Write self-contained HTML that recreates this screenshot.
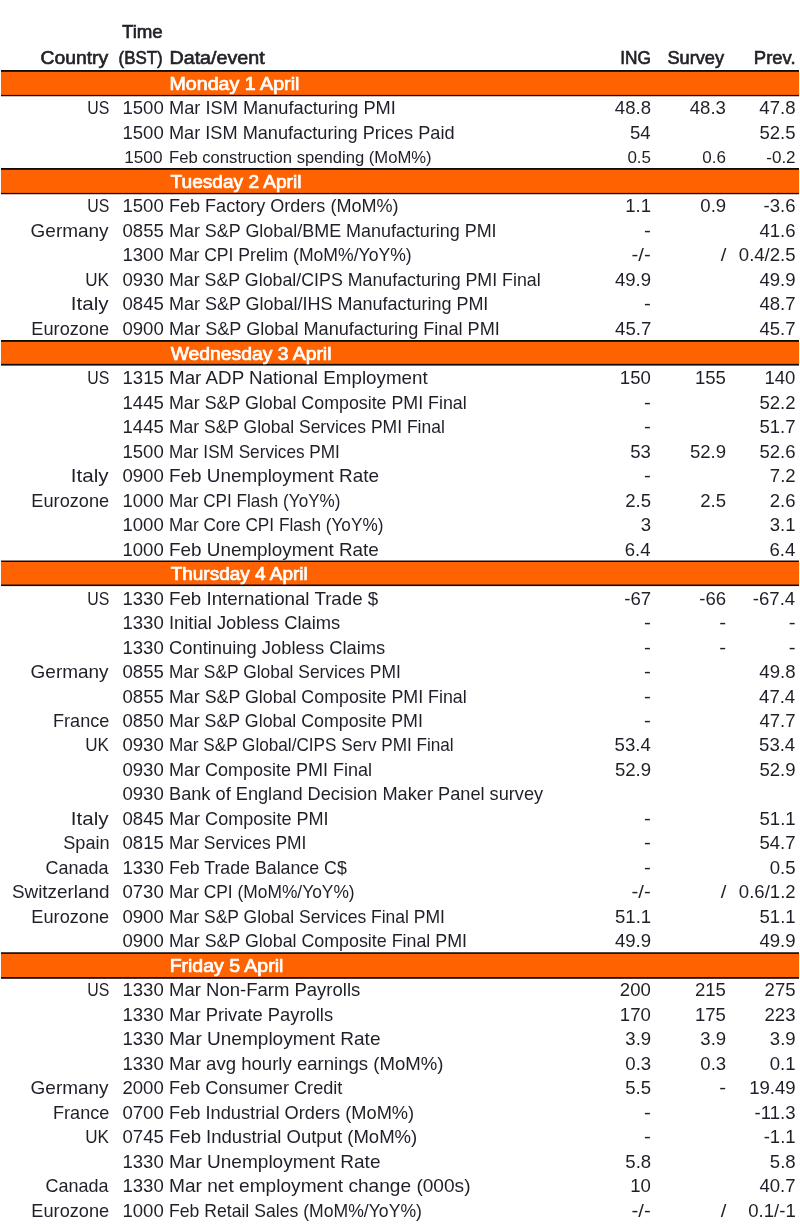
<!DOCTYPE html>
<html lang="en"><head><meta charset="utf-8"><title>Developed Markets Economic Calendar</title>
<style>
html,body{margin:0;padding:0;background:#fff;}
body{width:800px;height:1224px;position:relative;overflow:hidden;font-family:"Liberation Sans",Arial,sans-serif;color:#1f1f29;}
.t{position:absolute;white-space:nowrap;line-height:24px;height:24px;}
.b{color:#222228;-webkit-text-stroke:0.6px #222228;}
.band{position:absolute;left:1px;width:798px;}
.w{color:#fff;-webkit-text-stroke:0.7px #fff;}
.l{transform-origin:0 50%;}
.r{transform-origin:100% 50%;}
</style></head><body>

<span id="h_time" class="t b r" style="top:20px;font-size:17.8px;right:637.80px;transform:translateX(0.92px) scaleX(1.0519);">Time</span>
<span id="h_country" class="t b r" style="top:46px;font-size:17.8px;right:691.60px;transform:translateX(-0.09px) scaleX(1.0879);">Country</span>
<span id="h_bst" class="t b r" style="top:46px;font-size:17.8px;right:637.80px;transform:translateX(0.30px) scaleX(0.9511);">(BST)</span>
<span id="h_data" class="t b l" style="top:46px;font-size:17.8px;left:168.80px;transform:translateX(0.46px) scaleX(1.1079);">Data/event</span>
<span id="h_ing" class="t b r" style="top:46px;font-size:17.8px;right:149.60px;transform:translateX(0.36px) scaleX(0.9721);">ING</span>
<span id="h_survey" class="t b r" style="top:46px;font-size:17.8px;right:74.60px;transform:translateX(-1.25px) scaleX(1.0233);">Survey</span>
<span id="h_prev" class="t b r" style="top:46px;font-size:17.8px;right:4.80px;transform:translateX(0.44px) scaleX(1.0391);">Prev.</span>
<div class="band" style="top:69px;height:29px;background:linear-gradient(to bottom,rgba(255,255,255,0) 0.50px,#0e0c0a 1.50px,#0e0c0a 2.35px,#ff6200 3.35px,#ff6200 25.40px,#0e0c0a 26.40px,#0e0c0a 26.75px,rgba(255,255,255,0) 27.75px)"></div>
<span id="b0" class="t w l" style="top:72px;font-size:17.8px;left:168.80px;transform:translateX(0.45px) scaleX(1.1048);">Monday 1 April</span>
<span id="c1" class="t r" style="top:96px;font-size:17.8px;right:691.60px;transform:translateX(0.53px) scaleX(0.8923);">US</span>
<span id="t1" class="t r" style="top:96px;font-size:17.8px;right:636.80px;transform:translateX(0.17px) scaleX(1.0450);">1500</span>
<span id="d1" class="t l" style="top:96px;font-size:17.8px;left:168.80px;transform:scaleX(1.0246);">Mar ISM Manufacturing PMI</span>
<span id="i1" class="t r" style="top:96px;font-size:17.8px;right:149.60px;transform:translateX(0.39px) scaleX(1.0450);">48.8</span>
<span id="s1" class="t r" style="top:96px;font-size:17.8px;right:74.60px;transform:translateX(0.34px) scaleX(1.0450);">48.3</span>
<span id="p1" class="t r" style="top:96px;font-size:17.8px;right:4.80px;transform:translateX(-0.08px) scaleX(1.0450);">47.8</span>
<span id="t2" class="t r" style="top:121px;font-size:17.8px;right:636.80px;transform:translateX(0.17px) scaleX(1.0450);">1500</span>
<span id="d2" class="t l" style="top:121px;font-size:17.8px;left:168.80px;transform:scaleX(1.0211);">Mar ISM Manufacturing Prices Paid</span>
<span id="i2" class="t r" style="top:121px;font-size:17.8px;right:149.60px;transform:translateX(-0.18px) scaleX(1.0450);">54</span>
<span id="p2" class="t r" style="top:121px;font-size:17.8px;right:4.80px;transform:translateX(-0.04px) scaleX(1.0450);">52.5</span>
<span id="t3" class="t r" style="top:145px;font-size:16.3px;right:636.80px;transform:translateX(-0.77px) scaleX(1.0572);">1500</span>
<span id="d3" class="t l" style="top:145px;font-size:16.3px;left:168.80px;transform:scaleX(1.0220);">Feb construction spending (MoM%)</span>
<span id="i3" class="t r" style="top:145px;font-size:16.3px;right:149.60px;transform:translateX(0.40px) scaleX(1.0450);">0.5</span>
<span id="s3" class="t r" style="top:145px;font-size:16.3px;right:74.60px;transform:translateX(0.27px) scaleX(1.0450);">0.6</span>
<span id="p3" class="t r" style="top:145px;font-size:16.3px;right:4.80px;transform:translateX(0.53px) scaleX(1.0450);">-0.2</span>
<div class="band" style="top:167px;height:29px;background:linear-gradient(to bottom,rgba(255,255,255,0) 0.50px,#0e0c0a 1.50px,#0e0c0a 2.35px,#ff6200 3.35px,#ff6200 25.40px,#0e0c0a 26.40px,#0e0c0a 26.75px,rgba(255,255,255,0) 27.75px)"></div>
<span id="b4" class="t w l" style="top:170px;font-size:17.8px;left:168.80px;transform:translateX(1.58px) scaleX(1.0734);">Tuesday 2 April</span>
<span id="c5" class="t r" style="top:194px;font-size:17.8px;right:691.60px;transform:translateX(0.53px) scaleX(0.8923);">US</span>
<span id="t5" class="t r" style="top:194px;font-size:17.8px;right:636.80px;transform:translateX(0.17px) scaleX(1.0450);">1500</span>
<span id="d5" class="t l" style="top:194px;font-size:17.8px;left:168.80px;transform:scaleX(1.0145);">Feb Factory Orders (MoM%)</span>
<span id="i5" class="t r" style="top:194px;font-size:17.8px;right:149.60px;transform:translateX(0.34px) scaleX(1.0450);">1.1</span>
<span id="s5" class="t r" style="top:194px;font-size:17.8px;right:74.60px;transform:translateX(0.46px) scaleX(1.0450);">0.9</span>
<span id="p5" class="t r" style="top:194px;font-size:17.8px;right:4.80px;transform:translateX(-0.14px) scaleX(1.0450);">-3.6</span>
<span id="c6" class="t r" style="top:219px;font-size:17.8px;right:691.60px;transform:translateX(0.46px) scaleX(1.0665);">Germany</span>
<span id="t6" class="t r" style="top:219px;font-size:17.8px;right:636.80px;transform:translateX(0.30px) scaleX(1.0450);">0855</span>
<span id="d6" class="t l" style="top:219px;font-size:17.8px;left:168.80px;transform:scaleX(1.0086);">Mar S&amp;P Global/BME Manufacturing PMI</span>
<span id="i6" class="t r" style="top:219px;font-size:17.8px;right:149.60px;transform:translateX(0.81px) scaleX(1.1538);">-</span>
<span id="p6" class="t r" style="top:219px;font-size:17.8px;right:4.80px;transform:translateX(-0.06px) scaleX(1.0450);">41.6</span>
<span id="t7" class="t r" style="top:243px;font-size:17.8px;right:636.80px;transform:translateX(0.17px) scaleX(1.0450);">1300</span>
<span id="d7" class="t l" style="top:243px;font-size:17.8px;left:168.80px;transform:scaleX(0.9889);">Mar CPI Prelim (MoM%/YoY%)</span>
<span id="i7" class="t r" style="top:243px;font-size:17.8px;right:149.60px;transform:translateX(-0.05px) scaleX(1.1413);">-/-</span>
<span id="s7" class="t r" style="top:243px;font-size:17.8px;right:74.60px;transform:translateX(1.35px) scaleX(1.1432);">/</span>
<span id="p7" class="t r" style="top:243px;font-size:17.8px;right:4.80px;transform:translateX(0.24px) scaleX(1.0450);">0.4/2.5</span>
<span id="c8" class="t r" style="top:268px;font-size:17.8px;right:691.60px;transform:translateX(0.27px) scaleX(0.9608);">UK</span>
<span id="t8" class="t r" style="top:268px;font-size:17.8px;right:636.80px;transform:translateX(0.17px) scaleX(1.0450);">0930</span>
<span id="d8" class="t l" style="top:268px;font-size:17.8px;left:168.80px;transform:scaleX(1.0011);">Mar S&amp;P Global/CIPS Manufacturing PMI Final</span>
<span id="i8" class="t r" style="top:268px;font-size:17.8px;right:149.60px;transform:translateX(0.48px) scaleX(1.0450);">49.9</span>
<span id="p8" class="t r" style="top:268px;font-size:17.8px;right:4.80px;transform:translateX(-0.04px) scaleX(1.0450);">49.9</span>
<span id="c9" class="t r" style="top:292px;font-size:17.8px;right:691.60px;transform:translateX(-0.05px) scaleX(1.1580);">Italy</span>
<span id="t9" class="t r" style="top:292px;font-size:17.8px;right:636.80px;transform:translateX(0.30px) scaleX(1.0450);">0845</span>
<span id="d9" class="t l" style="top:292px;font-size:17.8px;left:168.80px;transform:scaleX(1.0109);">Mar S&amp;P Global/IHS Manufacturing PMI</span>
<span id="i9" class="t r" style="top:292px;font-size:17.8px;right:149.60px;transform:translateX(0.81px) scaleX(1.1538);">-</span>
<span id="p9" class="t r" style="top:292px;font-size:17.8px;right:4.80px;transform:translateX(-0.05px) scaleX(1.0450);">48.7</span>
<span id="c10" class="t r" style="top:317px;font-size:17.8px;right:691.60px;transform:translateX(1.01px) scaleX(1.0217);">Eurozone</span>
<span id="t10" class="t r" style="top:317px;font-size:17.8px;right:636.80px;transform:translateX(0.17px) scaleX(1.0450);">0900</span>
<span id="d10" class="t l" style="top:317px;font-size:17.8px;left:168.80px;transform:scaleX(1.0183);">Mar S&amp;P Global Manufacturing Final PMI</span>
<span id="i10" class="t r" style="top:317px;font-size:17.8px;right:149.60px;transform:translateX(0.61px) scaleX(1.0450);">45.7</span>
<span id="p10" class="t r" style="top:317px;font-size:17.8px;right:4.80px;transform:translateX(-0.05px) scaleX(1.0450);">45.7</span>
<div class="band" style="top:339px;height:28px;background:linear-gradient(to bottom,rgba(255,255,255,0) 0.50px,#0e0c0a 1.50px,#0e0c0a 2.35px,#ff6200 3.35px,#ff6200 24.35px,#0e0c0a 25.35px,#0e0c0a 26.10px,rgba(255,255,255,0) 27.10px)"></div>
<span id="b11" class="t w l" style="top:342px;font-size:17.8px;left:168.80px;transform:translateX(1.68px) scaleX(1.0866);">Wednesday 3 April</span>
<span id="c12" class="t r" style="top:366px;font-size:17.8px;right:691.60px;transform:translateX(0.53px) scaleX(0.8923);">US</span>
<span id="t12" class="t r" style="top:366px;font-size:17.8px;right:636.80px;transform:translateX(0.30px) scaleX(1.0450);">1315</span>
<span id="d12" class="t l" style="top:366px;font-size:17.8px;left:168.80px;transform:scaleX(1.0569);">Mar ADP National Employment</span>
<span id="i12" class="t r" style="top:366px;font-size:17.8px;right:149.60px;transform:translateX(0.19px) scaleX(1.0450);">150</span>
<span id="s12" class="t r" style="top:366px;font-size:17.8px;right:74.60px;transform:translateX(0.27px) scaleX(1.0450);">155</span>
<span id="p12" class="t r" style="top:366px;font-size:17.8px;right:4.80px;transform:translateX(-0.25px) scaleX(1.0450);">140</span>
<span id="t13" class="t r" style="top:391px;font-size:17.8px;right:636.80px;transform:translateX(0.30px) scaleX(1.0450);">1445</span>
<span id="d13" class="t l" style="top:391px;font-size:17.8px;left:168.80px;transform:scaleX(1.0020);">Mar S&amp;P Global Composite PMI Final</span>
<span id="i13" class="t r" style="top:391px;font-size:17.8px;right:149.60px;transform:translateX(0.81px) scaleX(1.1538);">-</span>
<span id="p13" class="t r" style="top:391px;font-size:17.8px;right:4.80px;transform:translateX(-0.05px) scaleX(1.0450);">52.2</span>
<span id="t14" class="t r" style="top:415px;font-size:17.8px;right:636.80px;transform:translateX(0.30px) scaleX(1.0450);">1445</span>
<span id="d14" class="t l" style="top:415px;font-size:17.8px;left:168.80px;transform:scaleX(0.9839);">Mar S&amp;P Global Services PMI Final</span>
<span id="i14" class="t r" style="top:415px;font-size:17.8px;right:149.60px;transform:translateX(0.81px) scaleX(1.1538);">-</span>
<span id="p14" class="t r" style="top:415px;font-size:17.8px;right:4.80px;transform:translateX(-0.05px) scaleX(1.0450);">51.7</span>
<span id="t15" class="t r" style="top:440px;font-size:17.8px;right:636.80px;transform:translateX(0.17px) scaleX(1.0450);">1500</span>
<span id="d15" class="t l" style="top:440px;font-size:17.8px;left:168.80px;transform:scaleX(0.9660);">Mar ISM Services PMI</span>
<span id="i15" class="t r" style="top:440px;font-size:17.8px;right:149.60px;transform:translateX(0.18px) scaleX(1.0450);">53</span>
<span id="s15" class="t r" style="top:440px;font-size:17.8px;right:74.60px;transform:translateX(0.48px) scaleX(1.0450);">52.9</span>
<span id="p15" class="t r" style="top:440px;font-size:17.8px;right:4.80px;transform:translateX(-0.06px) scaleX(1.0450);">52.6</span>
<span id="c16" class="t r" style="top:464px;font-size:17.8px;right:691.60px;transform:translateX(-0.05px) scaleX(1.1580);">Italy</span>
<span id="t16" class="t r" style="top:464px;font-size:17.8px;right:636.80px;transform:translateX(0.17px) scaleX(1.0450);">0900</span>
<span id="d16" class="t l" style="top:464px;font-size:17.8px;left:168.80px;transform:scaleX(1.0619);">Feb Unemployment Rate</span>
<span id="i16" class="t r" style="top:464px;font-size:17.8px;right:149.60px;transform:translateX(0.81px) scaleX(1.1538);">-</span>
<span id="p16" class="t r" style="top:464px;font-size:17.8px;right:4.80px;transform:translateX(0.95px) scaleX(1.0450);">7.2</span>
<span id="c17" class="t r" style="top:489px;font-size:17.8px;right:691.60px;transform:translateX(1.01px) scaleX(1.0217);">Eurozone</span>
<span id="t17" class="t r" style="top:489px;font-size:17.8px;right:636.80px;transform:translateX(0.17px) scaleX(1.0450);">1000</span>
<span id="d17" class="t l" style="top:489px;font-size:17.8px;left:168.80px;transform:scaleX(0.9624);">Mar CPI Flash (YoY%)</span>
<span id="i17" class="t r" style="top:489px;font-size:17.8px;right:149.60px;transform:translateX(0.40px) scaleX(1.0450);">2.5</span>
<span id="s17" class="t r" style="top:489px;font-size:17.8px;right:74.60px;transform:translateX(0.40px) scaleX(1.0450);">2.5</span>
<span id="p17" class="t r" style="top:489px;font-size:17.8px;right:4.80px;transform:translateX(0.80px) scaleX(1.0450);">2.6</span>
<span id="t18" class="t r" style="top:513px;font-size:17.8px;right:636.80px;transform:translateX(0.17px) scaleX(1.0450);">1000</span>
<span id="d18" class="t l" style="top:513px;font-size:17.8px;left:168.80px;transform:scaleX(0.9672);">Mar Core CPI Flash (YoY%)</span>
<span id="i18" class="t r" style="top:513px;font-size:17.8px;right:149.60px;transform:translateX(0.18px) scaleX(1.0450);">3</span>
<span id="p18" class="t r" style="top:513px;font-size:17.8px;right:4.80px;transform:translateX(0.83px) scaleX(1.0450);">3.1</span>
<span id="t19" class="t r" style="top:538px;font-size:17.8px;right:636.80px;transform:translateX(0.18px) scaleX(1.0450);">1000</span>
<span id="d19" class="t l" style="top:538px;font-size:17.8px;left:168.80px;transform:scaleX(1.0616);">Feb Unemployment Rate</span>
<span id="i19" class="t r" style="top:538px;font-size:17.8px;right:149.60px;transform:translateX(-0.13px) scaleX(1.0450);">6.4</span>
<span id="p19" class="t r" style="top:538px;font-size:17.8px;right:4.80px;transform:translateX(0.64px) scaleX(1.0450);">6.4</span>
<div class="band" style="top:559px;height:29px;background:linear-gradient(to bottom,rgba(255,255,255,0) 1.00px,#0e0c0a 2.00px,#0e0c0a 2.50px,#ff6200 3.50px,#ff6200 25.00px,#0e0c0a 26.00px,#0e0c0a 26.60px,rgba(255,255,255,0) 27.60px)"></div>
<span id="b20" class="t w l" style="top:562px;font-size:17.8px;left:168.80px;transform:translateX(1.63px) scaleX(1.0677);">Thursday 4 April</span>
<span id="c21" class="t r" style="top:587px;font-size:17.8px;right:691.60px;transform:translateX(0.53px) scaleX(0.8923);">US</span>
<span id="t21" class="t r" style="top:587px;font-size:17.8px;right:636.80px;transform:translateX(0.17px) scaleX(1.0450);">1330</span>
<span id="d21" class="t l" style="top:587px;font-size:17.8px;left:168.80px;transform:scaleX(1.0531);">Feb International Trade $</span>
<span id="i21" class="t r" style="top:587px;font-size:17.8px;right:149.60px;transform:translateX(0.50px) scaleX(1.0450);">-67</span>
<span id="s21" class="t r" style="top:587px;font-size:17.8px;right:74.60px;transform:translateX(0.42px) scaleX(1.0450);">-66</span>
<span id="p21" class="t r" style="top:587px;font-size:17.8px;right:4.80px;transform:translateX(-0.40px) scaleX(1.0450);">-67.4</span>
<span id="t22" class="t r" style="top:611px;font-size:17.8px;right:636.80px;transform:translateX(0.17px) scaleX(1.0450);">1330</span>
<span id="d22" class="t l" style="top:611px;font-size:17.8px;left:168.80px;transform:scaleX(1.0314);">Initial Jobless Claims</span>
<span id="i22" class="t r" style="top:611px;font-size:17.8px;right:149.60px;transform:translateX(0.81px) scaleX(1.1538);">-</span>
<span id="s22" class="t r" style="top:611px;font-size:17.8px;right:74.60px;transform:translateX(1.25px) scaleX(1.1553);">-</span>
<span id="p22" class="t r" style="top:611px;font-size:17.8px;right:4.80px;transform:translateX(0.75px) scaleX(1.1559);">-</span>
<span id="t23" class="t r" style="top:636px;font-size:17.8px;right:636.80px;transform:translateX(0.17px) scaleX(1.0450);">1330</span>
<span id="d23" class="t l" style="top:636px;font-size:17.8px;left:168.80px;transform:scaleX(1.0323);">Continuing Jobless Claims</span>
<span id="i23" class="t r" style="top:636px;font-size:17.8px;right:149.60px;transform:translateX(0.81px) scaleX(1.1538);">-</span>
<span id="s23" class="t r" style="top:636px;font-size:17.8px;right:74.60px;transform:translateX(1.25px) scaleX(1.1553);">-</span>
<span id="p23" class="t r" style="top:636px;font-size:17.8px;right:4.80px;transform:translateX(0.75px) scaleX(1.1559);">-</span>
<span id="c24" class="t r" style="top:660px;font-size:17.8px;right:691.60px;transform:translateX(0.46px) scaleX(1.0665);">Germany</span>
<span id="t24" class="t r" style="top:660px;font-size:17.8px;right:636.80px;transform:translateX(0.30px) scaleX(1.0450);">0855</span>
<span id="d24" class="t l" style="top:660px;font-size:17.8px;left:168.80px;transform:scaleX(0.9786);">Mar S&amp;P Global Services PMI</span>
<span id="i24" class="t r" style="top:660px;font-size:17.8px;right:149.60px;transform:translateX(0.81px) scaleX(1.1538);">-</span>
<span id="p24" class="t r" style="top:660px;font-size:17.8px;right:4.80px;transform:translateX(-0.08px) scaleX(1.0450);">49.8</span>
<span id="t25" class="t r" style="top:685px;font-size:17.8px;right:636.80px;transform:translateX(0.30px) scaleX(1.0450);">0855</span>
<span id="d25" class="t l" style="top:685px;font-size:17.8px;left:168.80px;transform:scaleX(1.0020);">Mar S&amp;P Global Composite PMI Final</span>
<span id="i25" class="t r" style="top:685px;font-size:17.8px;right:149.60px;transform:translateX(0.81px) scaleX(1.1538);">-</span>
<span id="p25" class="t r" style="top:685px;font-size:17.8px;right:4.80px;transform:translateX(-0.40px) scaleX(1.0450);">47.4</span>
<span id="c26" class="t r" style="top:709px;font-size:17.8px;right:691.60px;transform:translateX(0.95px) scaleX(1.0164);">France</span>
<span id="t26" class="t r" style="top:709px;font-size:17.8px;right:636.80px;transform:translateX(0.17px) scaleX(1.0450);">0850</span>
<span id="d26" class="t l" style="top:709px;font-size:17.8px;left:168.80px;transform:scaleX(1.0010);">Mar S&amp;P Global Composite PMI</span>
<span id="i26" class="t r" style="top:709px;font-size:17.8px;right:149.60px;transform:translateX(0.81px) scaleX(1.1538);">-</span>
<span id="p26" class="t r" style="top:709px;font-size:17.8px;right:4.80px;transform:translateX(-0.05px) scaleX(1.0450);">47.7</span>
<span id="c27" class="t r" style="top:733px;font-size:17.8px;right:691.60px;transform:translateX(0.27px) scaleX(0.9608);">UK</span>
<span id="t27" class="t r" style="top:733px;font-size:17.8px;right:636.80px;transform:translateX(0.17px) scaleX(1.0450);">0930</span>
<span id="d27" class="t l" style="top:733px;font-size:17.8px;left:168.80px;transform:scaleX(0.9645);">Mar S&amp;P Global/CIPS Serv PMI Final</span>
<span id="i27" class="t r" style="top:733px;font-size:17.8px;right:149.60px;transform:translateX(0.11px) scaleX(1.0450);">53.4</span>
<span id="p27" class="t r" style="top:733px;font-size:17.8px;right:4.80px;transform:translateX(-0.40px) scaleX(1.0450);">53.4</span>
<span id="t28" class="t r" style="top:758px;font-size:17.8px;right:636.80px;transform:translateX(0.17px) scaleX(1.0450);">0930</span>
<span id="d28" class="t l" style="top:758px;font-size:17.8px;left:168.80px;transform:scaleX(1.0117);">Mar Composite PMI Final</span>
<span id="i28" class="t r" style="top:758px;font-size:17.8px;right:149.60px;transform:translateX(0.48px) scaleX(1.0450);">52.9</span>
<span id="p28" class="t r" style="top:758px;font-size:17.8px;right:4.80px;transform:translateX(-0.04px) scaleX(1.0450);">52.9</span>
<span id="t29" class="t r" style="top:782px;font-size:17.8px;right:636.80px;transform:translateX(0.17px) scaleX(1.0450);">0930</span>
<span id="d29" class="t l" style="top:782px;font-size:17.8px;left:168.80px;transform:scaleX(1.0232);">Bank of England Decision Maker Panel survey</span>
<span id="c30" class="t r" style="top:807px;font-size:17.8px;right:691.60px;transform:translateX(-0.05px) scaleX(1.1580);">Italy</span>
<span id="t30" class="t r" style="top:807px;font-size:17.8px;right:636.80px;transform:translateX(0.30px) scaleX(1.0450);">0845</span>
<span id="d30" class="t l" style="top:807px;font-size:17.8px;left:168.80px;transform:scaleX(1.0157);">Mar Composite PMI</span>
<span id="i30" class="t r" style="top:807px;font-size:17.8px;right:149.60px;transform:translateX(0.81px) scaleX(1.1538);">-</span>
<span id="p30" class="t r" style="top:807px;font-size:17.8px;right:4.80px;transform:translateX(0.06px) scaleX(1.0450);">51.1</span>
<span id="c31" class="t r" style="top:831px;font-size:17.8px;right:691.60px;transform:translateX(1.15px) scaleX(1.0205);">Spain</span>
<span id="t31" class="t r" style="top:831px;font-size:17.8px;right:636.80px;transform:translateX(0.30px) scaleX(1.0450);">0815</span>
<span id="d31" class="t l" style="top:831px;font-size:17.8px;left:168.80px;transform:scaleX(0.9793);">Mar Services PMI</span>
<span id="i31" class="t r" style="top:831px;font-size:17.8px;right:149.60px;transform:translateX(0.81px) scaleX(1.1538);">-</span>
<span id="p31" class="t r" style="top:831px;font-size:17.8px;right:4.80px;transform:translateX(-0.05px) scaleX(1.0450);">54.7</span>
<span id="c32" class="t r" style="top:856px;font-size:17.8px;right:691.60px;transform:translateX(0.22px) scaleX(1.0109);">Canada</span>
<span id="t32" class="t r" style="top:856px;font-size:17.8px;right:636.80px;transform:translateX(0.17px) scaleX(1.0450);">1330</span>
<span id="d32" class="t l" style="top:856px;font-size:17.8px;left:168.80px;transform:scaleX(0.9993);">Feb Trade Balance C$</span>
<span id="i32" class="t r" style="top:856px;font-size:17.8px;right:149.60px;transform:translateX(0.81px) scaleX(1.1538);">-</span>
<span id="p32" class="t r" style="top:856px;font-size:17.8px;right:4.80px;transform:translateX(0.82px) scaleX(1.0450);">0.5</span>
<span id="c33" class="t r" style="top:880px;font-size:17.8px;right:691.60px;transform:translateX(1.58px) scaleX(1.0614);">Switzerland</span>
<span id="t33" class="t r" style="top:880px;font-size:17.8px;right:636.80px;transform:translateX(0.17px) scaleX(1.0450);">0730</span>
<span id="d33" class="t l" style="top:880px;font-size:17.8px;left:168.80px;transform:scaleX(0.9767);">Mar CPI (MoM%/YoY%)</span>
<span id="i33" class="t r" style="top:880px;font-size:17.8px;right:149.60px;transform:translateX(-0.05px) scaleX(1.1413);">-/-</span>
<span id="s33" class="t r" style="top:880px;font-size:17.8px;right:74.60px;transform:translateX(1.35px) scaleX(1.1432);">/</span>
<span id="p33" class="t r" style="top:880px;font-size:17.8px;right:4.80px;transform:translateX(0.25px) scaleX(1.0450);">0.6/1.2</span>
<span id="c34" class="t r" style="top:905px;font-size:17.8px;right:691.60px;transform:translateX(1.01px) scaleX(1.0217);">Eurozone</span>
<span id="t34" class="t r" style="top:905px;font-size:17.8px;right:636.80px;transform:translateX(0.17px) scaleX(1.0450);">0900</span>
<span id="d34" class="t l" style="top:905px;font-size:17.8px;left:168.80px;transform:scaleX(0.9843);">Mar S&amp;P Global Services Final PMI</span>
<span id="i34" class="t r" style="top:905px;font-size:17.8px;right:149.60px;transform:translateX(0.56px) scaleX(1.0450);">51.1</span>
<span id="p34" class="t r" style="top:905px;font-size:17.8px;right:4.80px;transform:translateX(0.06px) scaleX(1.0450);">51.1</span>
<span id="t35" class="t r" style="top:929px;font-size:17.8px;right:636.80px;transform:translateX(0.17px) scaleX(1.0450);">0900</span>
<span id="d35" class="t l" style="top:929px;font-size:17.8px;left:168.80px;transform:scaleX(1.0028);">Mar S&amp;P Global Composite Final PMI</span>
<span id="i35" class="t r" style="top:929px;font-size:17.8px;right:149.60px;transform:translateX(0.48px) scaleX(1.0450);">49.9</span>
<span id="p35" class="t r" style="top:929px;font-size:17.8px;right:4.80px;transform:translateX(-0.04px) scaleX(1.0450);">49.9</span>
<div class="band" style="top:951px;height:29px;background:linear-gradient(to bottom,rgba(255,255,255,0) 0.75px,#0e0c0a 1.75px,#0e0c0a 2.40px,#ff6200 3.40px,#ff6200 25.50px,#0e0c0a 26.50px,#0e0c0a 27.30px,rgba(255,255,255,0) 28.30px)"></div>
<span id="b36" class="t w l" style="top:954px;font-size:17.8px;left:168.80px;transform:translateX(0.66px) scaleX(1.0953);">Friday 5 April</span>
<span id="c37" class="t r" style="top:978px;font-size:17.8px;right:691.60px;transform:translateX(0.53px) scaleX(0.8923);">US</span>
<span id="t37" class="t r" style="top:978px;font-size:17.8px;right:636.80px;transform:translateX(0.17px) scaleX(1.0450);">1330</span>
<span id="d37" class="t l" style="top:978px;font-size:17.8px;left:168.80px;transform:scaleX(1.0408);">Mar Non-Farm Payrolls</span>
<span id="i37" class="t r" style="top:978px;font-size:17.8px;right:149.60px;transform:translateX(0.19px) scaleX(1.0450);">200</span>
<span id="s37" class="t r" style="top:978px;font-size:17.8px;right:74.60px;transform:translateX(0.27px) scaleX(1.0450);">215</span>
<span id="p37" class="t r" style="top:978px;font-size:17.8px;right:4.80px;transform:translateX(-0.05px) scaleX(1.0450);">275</span>
<span id="t38" class="t r" style="top:1003px;font-size:17.8px;right:636.80px;transform:translateX(0.17px) scaleX(1.0450);">1330</span>
<span id="d38" class="t l" style="top:1003px;font-size:17.8px;left:168.80px;transform:scaleX(1.0314);">Mar Private Payrolls</span>
<span id="i38" class="t r" style="top:1003px;font-size:17.8px;right:149.60px;transform:translateX(0.19px) scaleX(1.0450);">170</span>
<span id="s38" class="t r" style="top:1003px;font-size:17.8px;right:74.60px;transform:translateX(0.27px) scaleX(1.0450);">175</span>
<span id="p38" class="t r" style="top:1003px;font-size:17.8px;right:4.80px;transform:translateX(-0.15px) scaleX(1.0450);">223</span>
<span id="t39" class="t r" style="top:1027px;font-size:17.8px;right:636.80px;transform:translateX(0.17px) scaleX(1.0450);">1330</span>
<span id="d39" class="t l" style="top:1027px;font-size:17.8px;left:168.80px;transform:scaleX(1.0700);">Mar Unemployment Rate</span>
<span id="i39" class="t r" style="top:1027px;font-size:17.8px;right:149.60px;transform:translateX(0.46px) scaleX(1.0450);">3.9</span>
<span id="s39" class="t r" style="top:1027px;font-size:17.8px;right:74.60px;transform:translateX(0.46px) scaleX(1.0450);">3.9</span>
<span id="p39" class="t r" style="top:1027px;font-size:17.8px;right:4.80px;transform:translateX(0.98px) scaleX(1.0450);">3.9</span>
<span id="t40" class="t r" style="top:1052px;font-size:17.8px;right:636.80px;transform:translateX(0.17px) scaleX(1.0450);">1330</span>
<span id="d40" class="t l" style="top:1052px;font-size:17.8px;left:168.80px;transform:scaleX(1.0439);">Mar avg hourly earnings (MoM%)</span>
<span id="i40" class="t r" style="top:1052px;font-size:17.8px;right:149.60px;transform:translateX(0.43px) scaleX(1.0450);">0.3</span>
<span id="s40" class="t r" style="top:1052px;font-size:17.8px;right:74.60px;transform:translateX(0.43px) scaleX(1.0450);">0.3</span>
<span id="p40" class="t r" style="top:1052px;font-size:17.8px;right:4.80px;transform:translateX(0.83px) scaleX(1.0450);">0.1</span>
<span id="c41" class="t r" style="top:1076px;font-size:17.8px;right:691.60px;transform:translateX(0.46px) scaleX(1.0665);">Germany</span>
<span id="t41" class="t r" style="top:1076px;font-size:17.8px;right:636.80px;transform:translateX(0.17px) scaleX(1.0450);">2000</span>
<span id="d41" class="t l" style="top:1076px;font-size:17.8px;left:168.80px;transform:scaleX(1.0200);">Feb Consumer Credit</span>
<span id="i41" class="t r" style="top:1076px;font-size:17.8px;right:149.60px;transform:translateX(0.40px) scaleX(1.0450);">5.5</span>
<span id="s41" class="t r" style="top:1076px;font-size:17.8px;right:74.60px;transform:translateX(1.25px) scaleX(1.1553);">-</span>
<span id="p41" class="t r" style="top:1076px;font-size:17.8px;right:4.80px;transform:translateX(0.20px) scaleX(1.0450);">19.49</span>
<span id="c42" class="t r" style="top:1101px;font-size:17.8px;right:691.60px;transform:translateX(0.95px) scaleX(1.0164);">France</span>
<span id="t42" class="t r" style="top:1101px;font-size:17.8px;right:636.80px;transform:translateX(0.17px) scaleX(1.0450);">0700</span>
<span id="d42" class="t l" style="top:1101px;font-size:17.8px;left:168.80px;transform:scaleX(1.0252);">Feb Industrial Orders (MoM%)</span>
<span id="i42" class="t r" style="top:1101px;font-size:17.8px;right:149.60px;transform:translateX(0.81px) scaleX(1.1538);">-</span>
<span id="p42" class="t r" style="top:1101px;font-size:17.8px;right:4.80px;transform:translateX(0.28px) scaleX(1.0450);">-11.3</span>
<span id="c43" class="t r" style="top:1125px;font-size:17.8px;right:691.60px;transform:translateX(0.27px) scaleX(0.9608);">UK</span>
<span id="t43" class="t r" style="top:1125px;font-size:17.8px;right:636.80px;transform:translateX(0.30px) scaleX(1.0450);">0745</span>
<span id="d43" class="t l" style="top:1125px;font-size:17.8px;left:168.80px;transform:scaleX(1.0425);">Feb Industrial Output (MoM%)</span>
<span id="i43" class="t r" style="top:1125px;font-size:17.8px;right:149.60px;transform:translateX(0.81px) scaleX(1.1538);">-</span>
<span id="p43" class="t r" style="top:1125px;font-size:17.8px;right:4.80px;transform:translateX(0.06px) scaleX(1.0450);">-1.1</span>
<span id="t44" class="t r" style="top:1150px;font-size:17.8px;right:636.80px;transform:translateX(0.17px) scaleX(1.0450);">1330</span>
<span id="d44" class="t l" style="top:1150px;font-size:17.8px;left:168.80px;transform:scaleX(1.0700);">Mar Unemployment Rate</span>
<span id="i44" class="t r" style="top:1150px;font-size:17.8px;right:149.60px;transform:translateX(0.41px) scaleX(1.0450);">5.8</span>
<span id="p44" class="t r" style="top:1150px;font-size:17.8px;right:4.80px;transform:translateX(0.94px) scaleX(1.0450);">5.8</span>
<span id="c45" class="t r" style="top:1174px;font-size:17.8px;right:691.60px;transform:translateX(0.22px) scaleX(1.0109);">Canada</span>
<span id="t45" class="t r" style="top:1174px;font-size:17.8px;right:636.80px;transform:translateX(0.17px) scaleX(1.0450);">1330</span>
<span id="d45" class="t l" style="top:1174px;font-size:17.8px;left:168.80px;transform:scaleX(1.0742);">Mar net employment change (000s)</span>
<span id="i45" class="t r" style="top:1174px;font-size:17.8px;right:149.60px;transform:translateX(0.06px) scaleX(1.0450);">10</span>
<span id="p45" class="t r" style="top:1174px;font-size:17.8px;right:4.80px;transform:translateX(-0.05px) scaleX(1.0450);">40.7</span>
<span id="c46" class="t r" style="top:1199px;font-size:17.8px;right:691.60px;transform:translateX(1.01px) scaleX(1.0217);">Eurozone</span>
<span id="t46" class="t r" style="top:1199px;font-size:17.8px;right:636.80px;transform:translateX(0.17px) scaleX(1.0450);">1000</span>
<span id="d46" class="t l" style="top:1199px;font-size:17.8px;left:168.80px;transform:scaleX(0.9907);">Feb Retail Sales (MoM%/YoY%)</span>
<span id="i46" class="t r" style="top:1199px;font-size:17.8px;right:149.60px;transform:translateX(-0.05px) scaleX(1.1413);">-/-</span>
<span id="s46" class="t r" style="top:1199px;font-size:17.8px;right:74.60px;transform:translateX(1.35px) scaleX(1.1432);">/</span>
<span id="p46" class="t r" style="top:1199px;font-size:17.8px;right:4.80px;transform:translateX(0.27px) scaleX(1.0450);">0.1/-1</span>
</body></html>
